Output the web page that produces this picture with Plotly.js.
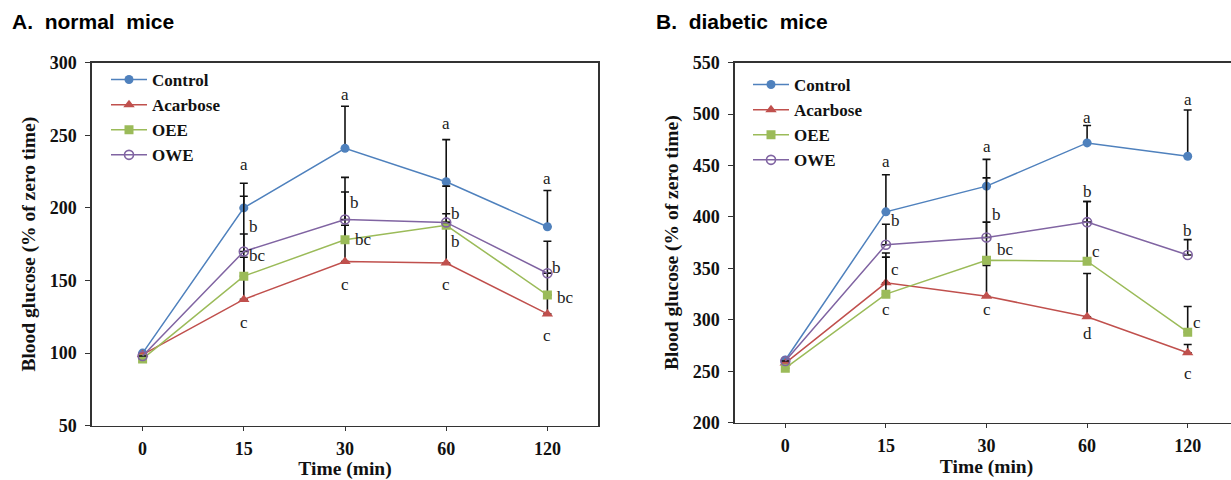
<!DOCTYPE html>
<html>
<head>
<meta charset="utf-8">
<script src="https://cdn.plot.ly/plotly-3.0.1.min.js"></script>
<style>
html,body{margin:0;padding:0;overflow:hidden;background:#fff;}
#chart{width:1245px;height:480px;}
</style>
</head>
<body>
<div id="chart"></div>
<script>
// ---- data ----
const timeLabels = ["0", "15", "30", "60", "120"];
const seriesNames = ["Control", "Acarbose", "OEE", "OWE"];

// A. normal mice
const normControl = [100, 200, 241, 218, 187];
const normControlErr = [0, 17, 29, 29, 25];
const normAcarbose = [99, 137, 163, 162, 127];
const normAcarboseErr = [0, 29, 25, 25, 13];
const normOEE = [96, 153, 178, 188, 140];
const normOEEErr = [0, 29, 33, 8, 15];
const normOWE = [98, 170, 192, 190, 155];
const normOWEErr = [0, 38, 29, 25, 22];

// B. diabetic mice
const diabControl = [261, 405, 430, 472, 459];
const diabControlErr = [0, 36, 26, 17, 45];
const diabAcarbose = [258, 336, 323, 303, 268];
const diabAcarboseErr = [0, 25, 30, 42, 8];
const diabOEE = [253, 325, 358, 357, 288];
const diabOEEErr = [0, 40, 80, 58, 25];
const diabOWE = [260, 373, 380, 395, 363];
const diabOWEErr = [0, 20, 15, 20, 15];

// significance letters: [time index, value, text, right-shift?]
const normLetters = [
  [1, 230, "a", 0], [1, 187, "b", 1], [1, 167, "bc", 1], [1, 121, "c", 0],
  [2, 278, "a", 0], [2, 204, "b", 1], [2, 178, "bc", 2], [2, 147, "c", 0],
  [3, 258, "a", 0], [3, 196, "b", 1], [3, 177, "b", 1], [3, 147, "c", 0],
  [4, 220, "a", 0], [4, 159, "b", 1], [4, 138, "bc", 2], [4, 112, "c", 0]
];
const diabLetters = [
  [1, 454, "a", 0], [1, 397, "b", 1], [1, 349, "c", 1], [1, 310, "c", 0],
  [2, 469, "a", 0], [2, 402, "b", 1], [2, 368, "bc", 2], [2, 310, "c", 0],
  [3, 497, "a", 0], [3, 425, "b", 0], [3, 366, "c", 1], [3, 287, "d", 0],
  [4, 514, "a", 0], [4, 387, "b", 0], [4, 297, "c", 1], [4, 248, "c", 0]
];

// ---- styling ----
const W = 1245, H = 480;
const colors = ["#4F81BD", "#C0504D", "#9BBB59", "#8064A2"];
const symbols = ["circle", "triangle-up", "square", "circle-open"];
const serif = "Liberation Serif, Times New Roman, serif";

function px(x) { return x / W; }
function py(y) { return 1 - y / H; }

function mk(y, err, i, xa, ya, leg) {
  return {
    x: timeLabels, y: y, type: "scatter", mode: "lines+markers",
    name: seriesNames[i], xaxis: xa, yaxis: ya, legend: leg, legendgroup: leg + i,
    line: {color: colors[i], width: 1.5},
    marker: {color: colors[i], symbol: symbols[i], size: symbols[i] === "triangle-up" ? 10 : 9,
             line: {color: colors[i], width: symbols[i] === "circle-open" ? 1.6 : 0}},
    error_y: {type: "data", symmetric: false, array: err, arrayminus: err.map(() => 0),
              color: "#111", thickness: 1.6, width: 4}
  };
}

const data = [
  mk(normControl, normControlErr, 0, "x", "y", "legend"),
  mk(normAcarbose, normAcarboseErr, 1, "x", "y", "legend"),
  mk(normOEE, normOEEErr, 2, "x", "y", "legend"),
  mk(normOWE, normOWEErr, 3, "x", "y", "legend"),
  mk(diabControl, diabControlErr, 0, "x2", "y2", "legend2"),
  mk(diabAcarbose, diabAcarboseErr, 1, "x2", "y2", "legend2"),
  mk(diabOEE, diabOEEErr, 2, "x2", "y2", "legend2"),
  mk(diabOWE, diabOWEErr, 3, "x2", "y2", "legend2")
];

const tickFont = {family: serif, size: 18, color: "#111", weight: "bold"};
const titleFont = {family: serif, size: 19.5, color: "#111", weight: "bold"};

function xax(dom) {
  return {
    type: "category", domain: dom, range: [-0.5, 4.5],
    showline: true, linecolor: "#333", linewidth: 1.6, mirror: true,
    ticks: "outside", ticklen: 4, tickcolor: "#333", showgrid: false, zeroline: false,
    tickfont: tickFont, fixedrange: true, ticklabelstandoff: 2,
    title: {text: "Time (min)", font: titleFont, standoff: 1}
  };
}
function yax(dom, rng) {
  return {
    domain: dom, range: rng, dtick: 50, tick0: 0,
    showline: true, linecolor: "#333", linewidth: 1.6, mirror: true,
    ticks: "outside", ticklen: 5, tickcolor: "#333", showgrid: false, zeroline: false,
    tickfont: tickFont, fixedrange: true, ticklabelstandoff: 5,
    title: {text: "Blood glucose (% of zero time)", font: titleFont, standoff: 9}
  };
}

const annotations = [];
function addLetters(list, xa, ya) {
  list.forEach(function (L) {
    annotations.push({
      x: L[0], y: L[1], xref: xa, yref: ya, text: L[2], showarrow: false,
      xanchor: L[3] ? "left" : "center", xshift: L[3] === 2 ? 8 : (L[3] ? 3 : 0),
      font: {family: serif, size: 17, color: "#222"}
    });
  });
}
addLetters(normLetters, "x", "y");
addLetters(diabLetters, "x2", "y2");

const titleFontSans = {family: "Liberation Sans, Arial, sans-serif", size: 21, color: "#000", weight: "bold"};
annotations.push({x: px(10), y: py(22), xref: "paper", yref: "paper", xanchor: "left", yanchor: "middle",
  text: "A.\u00a0 normal\u00a0 mice", showarrow: false, font: titleFontSans});
annotations.push({x: px(654), y: py(22), xref: "paper", yref: "paper", xanchor: "left", yanchor: "middle",
  text: "B.\u00a0 diabetic\u00a0 mice", showarrow: false, font: titleFontSans});

const legFont = {family: serif, size: 17, color: "#111", weight: "bold"};

const layout = {
  width: W, height: H,
  margin: {l: 0, r: 0, t: 0, b: 0},
  paper_bgcolor: "#fff", plot_bgcolor: "#fff",
  showlegend: true,
  xaxis: xax([px(92), px(598)]),
  yaxis: yax([py(425.7), py(62.7)], [50, 300]),
  xaxis2: Object.assign(xax([px(735), px(1238)]), {anchor: "y2"}),
  yaxis2: Object.assign(yax([py(422.7), py(62.7)], [200, 550]), {anchor: "x2"}),
  legend: {x: px(106), y: py(62), xanchor: "left", yanchor: "top", bgcolor: "rgba(0,0,0,0)",
           font: legFont, tracegroupgap: 0, itemwidth: 36},
  legend2: {x: px(748), y: py(67), xanchor: "left", yanchor: "top", bgcolor: "rgba(0,0,0,0)",
           font: legFont, tracegroupgap: 0, itemwidth: 36},
  annotations: annotations
};
layout.xaxis.anchor = "y";
layout.yaxis.anchor = "x";

Plotly.newPlot("chart", data, layout, {displayModeBar: false, staticPlot: true});
</script>
</body>
</html>
